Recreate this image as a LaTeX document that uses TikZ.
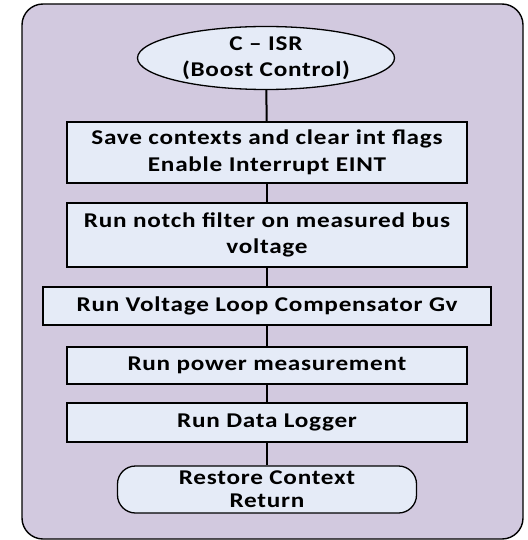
\documentclass[tikz,border=0pt]{standalone}
\usepackage{fontspec}
\setmainfont{Carlito}[FakeStretch=1.2, LetterSpace=3.5]
\usepackage{tikz}
\usetikzlibrary{shapes.geometric}

\definecolor{isrback}{HTML}{D2C9DF}
\definecolor{isrbox}{HTML}{E5EBF7}

\tikzset{
  stepbox/.style={draw=black, line width=1.3pt, fill=isrbox, rectangle,
    inner sep=0pt, align=center, font=\fontsize{21}{26.5}\selectfont\bfseries},
  flowline/.style={line width=2pt},
}

\begin{document}
\begin{tikzpicture}[x=1pt, y=-1pt]
      \useasboundingbox (0,0) rectangle (527,540);
      \draw[line width=1.4pt, fill=isrback, rounded corners=21pt] (22,4) rectangle (523,539);

      \node[stepbox, ellipse, minimum width=257pt, minimum height=63pt] (start) at (266,58) {C -- ISR\\(Boost Control)};
      \node[stepbox, minimum width=400pt, minimum height=61pt] (s1) at (267,152.5) {Save contexts and clear int flags\\Enable Interrupt EINT};
      \node[stepbox, minimum width=400pt, minimum height=64pt] (s2) at (267,235) {Run notch filter on measured bus\\voltage};
      \node[stepbox, minimum width=448pt, minimum height=38pt] (s3) at (267,306) {Run Voltage Loop Compensator Gv};
      \node[stepbox, minimum width=400pt, minimum height=37pt] (s4) at (267,365.5) {Run power measurement};
      \node[stepbox, minimum width=400pt, minimum height=39pt] (s5) at (267,422.5) {Run Data Logger};
      \node[stepbox, font=\fontsize{21}{23}\selectfont\bfseries, rounded corners=18pt,
        minimum width=299pt, minimum height=47pt] (stop) at (267,489.5) {Restore Context\\Return};

      \draw[flowline] (start) -- (s1);
      \draw[flowline] (s1) -- (s2);
      \draw[flowline] (s2) -- (s3);
      \draw[flowline] (s3) -- (s4);
      \draw[flowline] (s4) -- (s5);
      \draw[flowline] (s5) -- (stop);
\end{tikzpicture}
\end{document}
